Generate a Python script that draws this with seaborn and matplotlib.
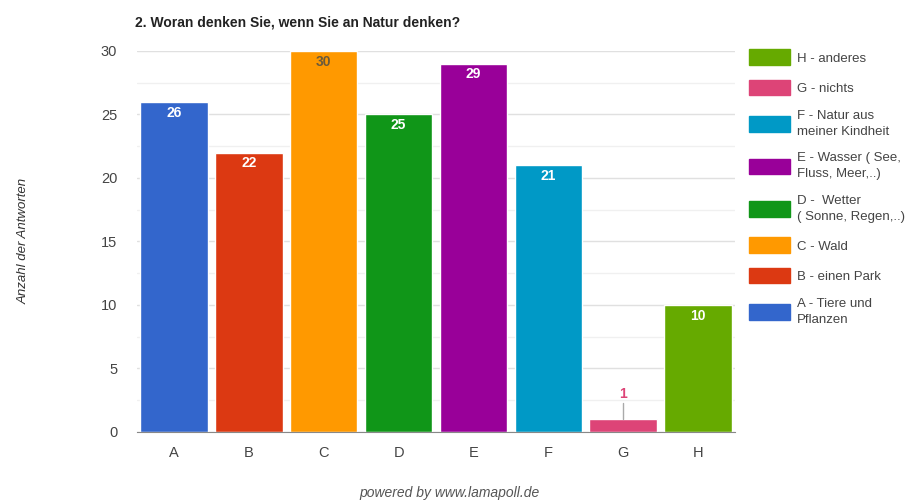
import pandas as pd
import numpy as np
import matplotlib.pyplot as plt
import seaborn as sns
from matplotlib.patches import Patch

categories = ['A', 'B', 'C', 'D', 'E', 'F', 'G', 'H']
counts = [26, 22, 30, 25, 29, 21, 1, 10]
legend_labels = ['A - Tiere und\nPflanzen', 'B - einen Park', 'C - Wald',
                 'D -  Wetter\n( Sonne, Regen,..)', 'E - Wasser ( See,\nFluss, Meer,..)',
                 'F - Natur aus\nmeiner Kindheit', 'G - nichts', 'H - anderes']
colors = ['#3366cc', '#dc3912', '#ff9900', '#109618', '#990099', '#0099c6', '#dd4477', '#66aa00']
label_colors = ['white', 'white', '#6b5a3a', 'white', 'white', 'white', '#dd4477', 'white']

df = pd.DataFrame({'cat': categories, 'n': counts})

sns.set_style('white')
plt.rcParams['font.family'] = ['Liberation Sans', 'DejaVu Sans']

fig = plt.figure(figsize=(9.17, 5.04), dpi=100)
ax = fig.add_axes([0.149, 0.143, 0.653, 0.756])

sns.barplot(data=df, x='cat', y='n', hue='cat', palette=colors, dodge=False,
            width=0.9, legend=False, ax=ax, saturation=1)

ax.set_xlim(-0.5, 7.5)
ax.set_ylim(0, 30)
ax.set_yticks(np.arange(0, 31, 5))
ax.set_yticks(np.arange(2.5, 30, 5), minor=True)
ax.grid(axis='y', which='major', color='#e0e0e0', lw=1)
ax.grid(axis='y', which='minor', color='#f0f0f0', lw=1)
ax.set_axisbelow(True)
for s in ['top', 'right', 'left']:
    ax.spines[s].set_visible(False)
ax.spines['bottom'].set_color('#888888')
ax.tick_params(axis='both', length=0, labelsize=10.5, colors='#444444', pad=10)
ax.tick_params(axis='y', pad=14)
ax.set_xlabel('')
ax.set_ylabel('Anzahl der Antworten', fontsize=9.5, style='italic', color='#333333')
ax.yaxis.set_label_coords(-0.178, 0.5)

for i, v in enumerate(counts):
    if v < 3:
        ax.plot([i, i], [v, v + 1.3], color='#aaaaaa', lw=1)
        ax.text(i, v + 1.4, str(v), ha='center', va='bottom', fontsize=10,
                fontweight='bold', color=label_colors[i])
    else:
        ax.text(i, v - 0.3, str(v), ha='center', va='top', fontsize=10,
                fontweight='bold', color=label_colors[i])

handles = [Patch(facecolor=c, edgecolor=c) for c in colors]
leg = ax.legend(handles[::-1], legend_labels[::-1], loc='upper left', bbox_to_anchor=(1.003, 1.035),
                frameon=False, fontsize=9.5, handlelength=3.1, handleheight=1.45,
                labelspacing=1.1, handletextpad=0.5, labelcolor='#444444')
for t in leg.get_texts():
    t.set_linespacing(1.45)

fig.text(0.147, 0.955, '2. Woran denken Sie, wenn Sie an Natur denken?', fontsize=10,
         fontweight='bold', color='#222222', va='center')
fig.text(0.49, 0.022, 'powered by www.lamapoll.de', fontsize=10, style='italic',
         color='#555555', ha='center', va='center')

fig.savefig('out.png', dpi=100)
